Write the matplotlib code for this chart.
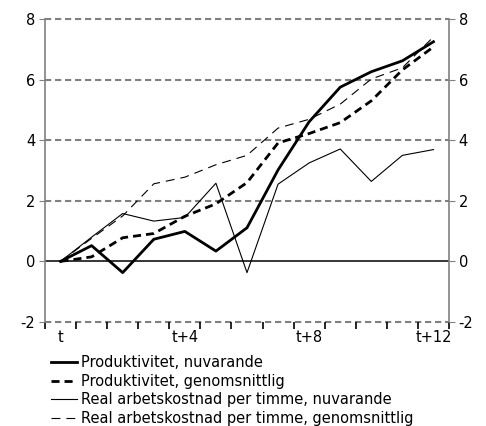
import matplotlib.pyplot as plt
import numpy as np

plt.rcParams["axes.unicode_minus"] = False

# Data
periods = ["t", "t+1", "t+2", "t+3", "t+4", "t+5", "t+6", "t+7", "t+8", "t+9", "t+10", "t+11", "t+12"]
prod_now = [0, 0.52, -0.37, 0.73, 0.99, 0.34, 1.11, 3.02, 4.61, 5.75, 6.26, 6.62, 7.25]
prod_avg = [0, 0.15, 0.78, 0.92, 1.49, 1.9, 2.6, 3.91, 4.22, 4.58, 5.3, 6.32, 7.08]
cost_now = [0, 0.8, 1.58, 1.33, 1.45, 2.58, -0.37, 2.55, 3.25, 3.71, 2.64, 3.5, 3.69]
cost_avg = [0, 0.76, 1.5, 2.56, 2.78, 3.19, 3.5, 4.4, 4.69, 5.19, 6.02, 6.39, 7.41]
labels = ["Produktivitet, nuvarande", "Produktivitet, genomsnittlig",
          "Real arbetskostnad per timme, nuvarande",
          "Real arbetskostnad per timme, genomsnittlig"]

x = np.arange(len(periods))

fig = plt.figure(figsize=(4.86, 4.26), dpi=100)
ax = fig.add_axes([45 / 486, 1 - 322 / 426, 404 / 486, 303 / 426])

grey = "#808080"
ax.set_ylim(-2, 8)
ax.set_xlim(-0.5, len(periods) - 0.5)
ax.set_yticks(np.arange(-2, 9, 2))
for yv in np.arange(-2, 9, 2):
    if yv != 0:
        ax.axhline(yv, color=grey, lw=1.5, ls=(0, (3, 1.8)), zorder=1, clip_on=False)
ax.axhline(0, color="black", lw=1.1, zorder=1)

l1, = ax.plot(x, prod_now, color="black", lw=2.0, zorder=3)
l2, = ax.plot(x, prod_avg, color="black", lw=2.0, ls=(0, (2.9, 1.8)), zorder=3)
l3, = ax.plot(x, cost_now, color="black", lw=0.8, zorder=3)
l4, = ax.plot(x, cost_avg, color="black", lw=0.8, ls=(0, (8, 5.4)), zorder=3)

# axes styling
for s in ["top", "bottom"]:
    ax.spines[s].set_visible(False)
for s in ["left", "right"]:
    ax.spines[s].set_color(grey)
    ax.spines[s].set_linewidth(1.2)

ax.tick_params(axis="y", which="both", left=True, right=True, labelleft=True,
               labelright=True, length=4, color=grey, labelsize=10.5, pad=3)
ax.set_xticks(x[::4])
ax.set_xticklabels([periods[i] for i in x[::4]])
ax.set_xticks(np.arange(-0.5, len(periods), 1), minor=True)
ax.tick_params(axis="x", which="major", length=0, labelsize=10.5, pad=6)
ax.tick_params(axis="x", which="minor", length=5, color="black", width=1.2)

fig.legend([l1, l2, l3, l4], labels, loc="upper left",
           bbox_to_anchor=(51 / 486, 1 - 355 / 426), frameon=False,
           fontsize=10.5, handlelength=1.78, handletextpad=0.28,
           labelspacing=0.25, borderpad=0, borderaxespad=0)

plt.savefig("out.png", dpi=100)
plt.close()
